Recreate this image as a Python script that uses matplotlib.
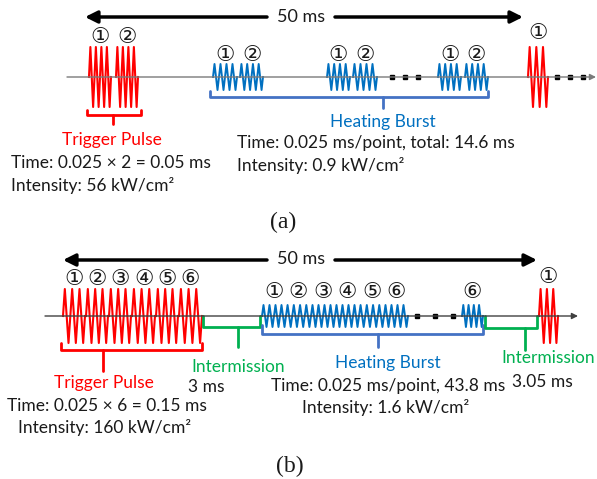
import numpy as np
import matplotlib
matplotlib.use("Agg")
import matplotlib.pyplot as plt

# ---- content ----
title_a = "(a)"
title_b = "(b)"
span_label = "50 ms"
trigger_label = "Trigger Pulse"
heating_label = "Heating Burst"
inter_label = "Intermission"
a_trigger_text = ["Time: 0.025 \u00d7 2 = 0.05 ms", "Intensity: 56 kW/cm\u00b2"]
a_heating_text = ["Time: 0.025 ms/point, total: 14.6 ms", "Intensity: 0.9 kW/cm\u00b2"]
b_trigger_text = ["Time: 0.025 \u00d7 6 = 0.15 ms", "Intensity: 160 kW/cm\u00b2"]
b_heating_text = ["Time: 0.025 ms/point, 43.8 ms", "Intensity: 1.6 kW/cm\u00b2"]
b_inter1 = "3 ms"
b_inter2 = "3.05 ms"
circ = ["\u2460", "\u2461", "\u2462", "\u2463", "\u2464", "\u2465"]

# pulse layouts: (start x, end x, cycles)
a_red = [(89, 111, 4), (116, 138, 4), (528, 548, 3)]
a_red_lab = [0, 1, 0]
a_blue = [(213, 237, 4), (240, 263, 4), (327, 350, 4), (353, 377, 4), (438, 461, 4), (465, 488, 4)]
a_blue_lab = [0, 1, 0, 1, 0, 1]
b_red = [(63, 85, 3), (86, 108, 3), (109, 131, 3), (132, 155, 3), (156, 178, 3), (179, 202, 3), (539, 558, 3)]
b_red_lab = [0, 1, 2, 3, 4, 5, 0]
b_blue = [(262, 286, 4), (286, 311, 4), (311, 335, 4), (335, 359, 4), (359, 384, 4), (384, 408, 4), (462, 483, 4)]
b_blue_lab = [0, 1, 2, 3, 4, 5, 5]

RED = "#FF0000"
BLUE = "#0070C0"
BBR = "#4472C4"
GREEN = "#00B050"
FONT = ["Lato", "DejaVu Sans"]
FS = 12.5
CS = 15.5

fig = plt.figure(figsize=(5.97, 4.79), dpi=100)
ax = fig.add_axes([0, 0, 1, 1])
ax.set_xlim(0, 597)
ax.set_ylim(479, 0)
ax.axis("off")


def zigzag(x0, x1, yc, amp, n):
    k = np.arange(4 * n + 1)
    x = x0 + (x1 - x0) * k / (4 * n)
    y = yc - amp * np.array([0, 1, 0, -1])[k % 4]
    return x, y


def arrow(x0, x1, y, lw=2.5, ms=18, color="black"):
    ax.annotate("", xy=(x1, y), xytext=(x0, y),
                arrowprops=dict(arrowstyle="-|>", lw=lw, color=color,
                                mutation_scale=ms, shrinkA=0, shrinkB=0))


def bracket(x0, x1, ytop, ybot, xt, ytick, color, lw=2):
    ax.plot([x0, x0, x1, x1], [ytop, ybot, ybot, ytop], color=color, lw=lw,
            solid_joinstyle="round", solid_capstyle="round")
    ax.plot([xt, xt], [ybot, ytick], color=color, lw=lw, solid_capstyle="round")


def txt(x, y, s, color="#1a1a1a", size=FS, ha="center", family=FONT):
    ax.text(x, y, s, color=color, fontsize=size, ha=ha, va="center", family=family)


def circnum(x, y, i):
    ax.text(x, y, circ[i], color="#1a1a1a", fontsize=CS, ha="center", va="center",
            family=["DejaVu Sans"])


# ---------------- panel (a) ----------------
arrow(267, 85, 17)
arrow(335, 523, 17)
txt(301, 17, span_label, size=13)
ax.annotate("", xy=(596, 77), xytext=(67, 77),
            arrowprops=dict(arrowstyle="-|>", lw=1.0, color="#7a7a7a",
                            mutation_scale=9, shrinkA=0, shrinkB=0))
for (x0, x1, n), li in zip(a_red, a_red_lab):
    xs, ys = zigzag(x0, x1, 77, 30, n)
    ax.plot(xs, ys, color=RED, lw=1.5)
    ly = 33 if x0 > 500 else 37
    circnum((x0 + x1) / 2, ly, li)
for (x0, x1, n), li in zip(a_blue, a_blue_lab):
    xs, ys = zigzag(x0, x1, 77, 13, n)
    ax.plot(xs, ys, color=BLUE, lw=1.4)
    circnum((x0 + x1) / 2, 55, li)
for xd in [392, 405, 418, 557, 570, 583]:
    ax.plot(xd, 77, marker="s", ms=3.5, color="black", mec="black")

bracket(87, 141, 110, 115, 113, 124, RED)
bracket(210, 488, 91, 97, 383, 108, BBR)
txt(112, 140, trigger_label, color=RED)
ax.text(11, 163, a_trigger_text[0], fontsize=FS, ha="left", va="center", family=FONT, color="#1a1a1a")
ax.text(11, 185, a_trigger_text[1], fontsize=FS, ha="left", va="center", family=FONT, color="#1a1a1a")
txt(383, 122, heating_label, color=BLUE)
ax.text(237, 143, a_heating_text[0], fontsize=FS, ha="left", va="center", family=FONT, color="#1a1a1a")
ax.text(237, 166, a_heating_text[1], fontsize=FS, ha="left", va="center", family=FONT, color="#1a1a1a")
txt(283, 222, title_a, size=17, family=["Liberation Serif"])

# ---------------- panel (b) ----------------
arrow(267, 63, 260)
arrow(335, 537, 260)
txt(301, 259, span_label, size=13)
ax.annotate("", xy=(578, 316), xytext=(45, 316),
            arrowprops=dict(arrowstyle="-|>", lw=1.0, color="#404040",
                            mutation_scale=9, shrinkA=0, shrinkB=0))
for (x0, x1, n), li in zip(b_red, b_red_lab):
    xs, ys = zigzag(x0, x1, 316, 27, n)
    ax.plot(xs, ys, color=RED, lw=1.5)
    ly = 277 if x0 > 500 else 279
    circnum((x0 + x1) / 2, ly, li)
for (x0, x1, n), li in zip(b_blue, b_blue_lab):
    xs, ys = zigzag(x0, x1, 316, 11, n)
    ax.plot(xs, ys, color=BLUE, lw=1.4)
    circnum((x0 + x1) / 2, 292, li)
for xd in [417, 435, 453]:
    ax.plot(xd, 316, marker="s", ms=3.5, color="black", mec="black")

bracket(61, 202, 343, 350, 103, 371, RED)
bracket(203, 260, 316, 327, 238, 347, GREEN)
bracket(262, 483, 325, 334, 378, 347, BBR)
bracket(485, 537, 316, 328, 525, 350, GREEN)

txt(104, 383, trigger_label, color=RED)
txt(107, 406, b_trigger_text[0])
txt(105, 428, b_trigger_text[1])
txt(238, 367, inter_label, color=GREEN)
txt(206, 387, b_inter1)
txt(388, 363, heating_label, color=BLUE)
txt(388, 386, b_heating_text[0])
txt(386, 408, b_heating_text[1])
txt(548, 358, inter_label, color=GREEN)
txt(542, 382, b_inter2)
txt(290, 466, title_b, size=17, family=["Liberation Serif"])

fig.savefig("out.png", dpi=100)
